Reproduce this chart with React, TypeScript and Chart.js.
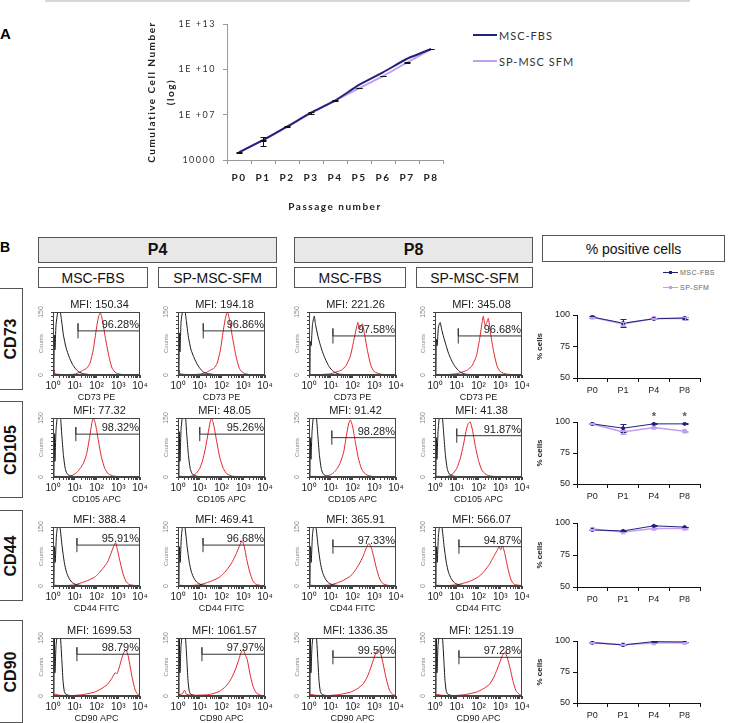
import React, { useEffect, useRef } from "react";
import { Chart, registerables } from "chart.js";

Chart.register(...registerables);

type Pt = [number, number];

// ---------- Panel A: cumulative growth ----------
const passages = ["P0", "P1", "P2", "P3", "P4", "P5", "P6", "P7", "P8"];
const cumulativeFBS = [3.2e4, 2.1e5, 1.6e6, 1.35e7, 8.5e7, 9.3e8, 6.3e9, 5.0e10, 2.2e11];
const cumulativeSFM = [3.2e4, 2.0e5, 1.6e6, 1.25e7, 8.5e7, 5.6e8, 3.6e9, 2.8e10, 2.2e11];
const cumulativeFBSLow = [3.2e4, 8.5e4, 1.6e6, 1.35e7, 8.5e7, 9.3e8, 6.3e9, 5.0e10, 2.2e11];
const cumulativeFBSHigh = [3.2e4, 3.4e5, 1.6e6, 1.35e7, 8.5e7, 9.3e8, 6.3e9, 5.0e10, 2.2e11];
const cumulativeSFMLow = [3.1e4, 1.9e5, 1.55e6, 1.1e7, 8.2e7, 5.4e8, 3.5e9, 2.7e10, 2.15e11];
const cumulativeSFMHigh = [3.3e4, 2.1e5, 1.65e6, 1.4e7, 8.8e7, 5.8e8, 3.7e9, 2.9e10, 2.25e11];
const growthTicks = [1e4, 1e7, 1e10, 1e13];

// ---------- Panel B: % positive cells ----------
const pctPassages = ["P0", "P1", "P4", "P8"];
const pctMarkers = ["CD73", "CD105", "CD44", "CD90"];
const pctFBS = [
  [98.4, 93.5, 97.0, 97.6],
  [98.5, 95.0, 98.5, 98.5],
  [94.6, 93.8, 97.8, 96.8],
  [98.7, 96.8, 99.5, 99.2],
];
const pctSFM = [
  [98.2, 93.0, 97.2, 97.3],
  [98.5, 92.0, 95.5, 92.5],
  [95.2, 93.0, 95.7, 95.7],
  [98.7, 97.0, 98.4, 98.7],
];
const pctErrFBS = [
  [1.0, 3.0, 0.5, 1.0],
  [0.5, 3.0, 0.5, 0.5],
  [0.3, 0.3, 0.3, 0.3],
  [0.3, 0.3, 0.3, 0.3],
];
const pctErrSFM = [
  [0.5, 1.5, 0.5, 1.0],
  [0.5, 1.5, 0.5, 0.5],
  [0.3, 0.3, 0.3, 0.3],
  [0.3, 0.3, 0.3, 0.3],
];
const pctSignificant = [
  [false, false, false, false],
  [false, false, true, true],
  [false, false, false, false],
  [false, false, false, false],
];

// ---------- Panel B: flow cytometry histograms ----------
const histAxisLabels = ["CD73 PE", "CD105 APC", "CD44 FITC", "CD90 APC"];
const histMFI = [
  ["150.34", "194.18", "221.26", "345.08"],
  ["77.32", "48.05", "91.42", "41.38"],
  ["388.4", "469.41", "365.91", "566.07"],
  ["1699.53", "1061.57", "1336.35", "1251.19"],
];
const histPositive = [
  ["96.28%", "96.86%", "97.58%", "96.68%"],
  ["98.32%", "95.26%", "98.28%", "91.87%"],
  ["95.91%", "96.68%", "97.33%", "94.87%"],
  ["98.79%", "97.97%", "99.59%", "97.28%"],
];
const gateStart = [
  [1.15, 1.16, 1.1, 1.07],
  [1.05, 1.0, 1.05, 1.0],
  [1.1, 1.15, 1.1, 1.1],
  [1.1, 1.1, 1.1, 1.1],
];
const gateLevel = [
  [105, 105, 93, 93],
  [109, 109, 100, 105],
  [104, 104, 100, 100],
  [108, 108, 100, 100],
];

const isotypeCurves: Pt[][][] = [
  [
    [[0, 0], [0.04, 0], [0.06, 95], [0.09, 60], [0.14, 120], [0.22, 150], [0.3, 160], [0.38, 135], [0.48, 95], [0.6, 65], [0.75, 42], [0.9, 25], [1.05, 14], [1.2, 7], [1.4, 3], [1.7, 1], [2.2, 0], [4, 0]],
    [[0, 0], [0.04, 0], [0.06, 100], [0.09, 55], [0.14, 125], [0.22, 155], [0.3, 160], [0.38, 130], [0.48, 90], [0.6, 60], [0.75, 40], [0.9, 24], [1.05, 13], [1.2, 6], [1.4, 3], [1.7, 1], [2.2, 0], [4, 0]],
    [[0, 0], [0.04, 0], [0.06, 80], [0.1, 70], [0.16, 120], [0.24, 140], [0.3, 120], [0.4, 95], [0.5, 75], [0.62, 55], [0.75, 38], [0.9, 22], [1.05, 12], [1.2, 6], [1.4, 2], [1.7, 1], [2.2, 0], [4, 0]],
    [[0, 0], [0.04, 0], [0.06, 85], [0.1, 70], [0.16, 115], [0.24, 125], [0.3, 110], [0.4, 90], [0.5, 72], [0.62, 52], [0.75, 36], [0.9, 22], [1.05, 12], [1.2, 6], [1.4, 2], [1.7, 1], [2.2, 0], [4, 0]],
  ],
  [
    [[0, 0], [0.04, 0], [0.06, 110], [0.09, 40], [0.14, 120], [0.22, 160], [0.32, 165], [0.4, 110], [0.48, 55], [0.56, 22], [0.65, 8], [0.8, 3], [1.0, 1], [1.5, 0], [4, 0]],
    [[0, 0], [0.04, 0], [0.06, 115], [0.09, 40], [0.14, 120], [0.22, 160], [0.32, 165], [0.4, 110], [0.48, 55], [0.56, 22], [0.65, 8], [0.8, 3], [1.0, 1], [1.5, 0], [4, 0]],
    [[0, 0], [0.04, 0], [0.06, 100], [0.09, 45], [0.14, 115], [0.22, 160], [0.32, 160], [0.4, 110], [0.48, 55], [0.56, 22], [0.65, 8], [0.8, 3], [1.0, 1], [1.5, 0], [4, 0]],
    [[0, 0], [0.04, 0], [0.06, 100], [0.09, 45], [0.14, 115], [0.22, 160], [0.32, 160], [0.4, 110], [0.48, 55], [0.56, 22], [0.65, 8], [0.8, 3], [1.0, 1], [1.5, 0], [4, 0]],
  ],
  [
    [[0, 0], [0.04, 0], [0.06, 100], [0.1, 60], [0.16, 130], [0.24, 160], [0.32, 150], [0.42, 100], [0.52, 60], [0.62, 35], [0.75, 18], [0.9, 8], [1.1, 3], [1.4, 1], [2, 0], [4, 0]],
    [[0, 0], [0.04, 0], [0.06, 100], [0.1, 60], [0.16, 130], [0.24, 160], [0.32, 150], [0.42, 100], [0.52, 60], [0.62, 35], [0.75, 18], [0.9, 8], [1.1, 3], [1.4, 1], [2, 0], [4, 0]],
    [[0, 0], [0.04, 0], [0.06, 100], [0.1, 60], [0.16, 130], [0.24, 160], [0.32, 150], [0.42, 100], [0.52, 60], [0.62, 35], [0.75, 18], [0.9, 8], [1.1, 3], [1.4, 1], [2, 0], [4, 0]],
    [[0, 0], [0.04, 0], [0.06, 100], [0.1, 60], [0.16, 130], [0.24, 160], [0.32, 150], [0.42, 100], [0.52, 60], [0.62, 35], [0.75, 18], [0.9, 8], [1.1, 3], [1.4, 1], [2, 0], [4, 0]],
  ],
  [
    [[0, 0], [0.04, 0], [0.06, 160], [0.09, 60], [0.14, 130], [0.22, 165], [0.32, 165], [0.4, 100], [0.46, 40], [0.52, 12], [0.6, 4], [0.8, 1], [1.2, 0], [4, 0]],
    [[0, 0], [0.04, 0], [0.06, 160], [0.09, 60], [0.14, 130], [0.22, 165], [0.32, 165], [0.4, 100], [0.46, 40], [0.52, 12], [0.6, 4], [0.8, 1], [1.2, 0], [4, 0]],
    [[0, 0], [0.04, 0], [0.06, 160], [0.09, 60], [0.14, 130], [0.22, 165], [0.32, 165], [0.4, 100], [0.46, 40], [0.52, 12], [0.6, 4], [0.8, 1], [1.2, 0], [4, 0]],
    [[0, 0], [0.04, 0], [0.06, 160], [0.09, 60], [0.14, 130], [0.22, 165], [0.32, 165], [0.4, 100], [0.46, 40], [0.52, 12], [0.6, 4], [0.8, 1], [1.2, 0], [4, 0]],
  ],
];

const stainedCurves: Pt[][][] = [
  [
    [[0, 2], [0.05, 12], [0.09, 3], [0.5, 1], [1.0, 2], [1.2, 6], [1.4, 12], [1.55, 16], [1.7, 28], [1.85, 60], [2.0, 112], [2.1, 140], [2.18, 148], [2.28, 128], [2.42, 85], [2.58, 42], [2.72, 16], [2.9, 5], [3.2, 1], [4, 0]],
    [[0, 2], [0.05, 12], [0.09, 3], [0.5, 1], [1.0, 2], [1.3, 6], [1.5, 12], [1.65, 16], [1.8, 28], [1.95, 60], [2.1, 112], [2.2, 140], [2.28, 150], [2.38, 128], [2.52, 85], [2.68, 42], [2.82, 16], [3.0, 5], [3.3, 1], [4, 0]],
    [[0, 1], [0.5, 1], [1.0, 3], [1.3, 8], [1.5, 12], [1.7, 22], [1.9, 45], [2.05, 80], [2.18, 112], [2.25, 125], [2.32, 110], [2.4, 118], [2.46, 122], [2.56, 95], [2.7, 55], [2.85, 22], [3.0, 8], [3.3, 2], [4, 0]],
    [[0, 1], [0.5, 1], [1.0, 3], [1.3, 8], [1.5, 12], [1.7, 22], [1.9, 45], [2.05, 85], [2.15, 120], [2.22, 140], [2.3, 118], [2.38, 125], [2.45, 135], [2.55, 100], [2.7, 55], [2.85, 22], [3.0, 8], [3.3, 2], [4, 0]],
  ],
  [
    [[0, 2], [0.5, 1], [0.8, 2], [0.95, 6], [1.1, 12], [1.25, 22], [1.4, 35], [1.55, 60], [1.68, 100], [1.78, 135], [1.85, 150], [1.95, 135], [2.08, 95], [2.22, 52], [2.38, 22], [2.55, 8], [2.8, 2], [3.2, 1], [4, 0]],
    [[0, 2], [0.5, 1], [0.7, 4], [0.85, 10], [1.0, 22], [1.12, 40], [1.25, 70], [1.38, 110], [1.48, 140], [1.55, 150], [1.65, 130], [1.78, 90], [1.92, 50], [2.08, 22], [2.25, 8], [2.5, 2], [3.0, 1], [4, 0]],
    [[0, 2], [0.5, 1], [0.8, 2], [1.0, 6], [1.15, 12], [1.3, 22], [1.45, 38], [1.6, 65], [1.72, 105], [1.82, 135], [1.9, 145], [2.0, 130], [2.12, 92], [2.26, 50], [2.42, 20], [2.6, 7], [2.85, 2], [3.2, 1], [4, 0]],
    [[0, 2], [0.5, 1], [0.7, 4], [0.85, 10], [1.0, 22], [1.15, 45], [1.3, 80], [1.42, 115], [1.52, 135], [1.62, 140], [1.72, 120], [1.85, 80], [2.0, 42], [2.15, 18], [2.35, 6], [2.6, 2], [3.0, 1], [4, 0]],
  ],
  [
    [[0, 2], [0.5, 1], [1.0, 3], [1.3, 8], [1.6, 14], [1.9, 22], [2.1, 32], [2.3, 45], [2.5, 60], [2.65, 80], [2.78, 100], [2.88, 110], [2.95, 95], [3.05, 70], [3.2, 35], [3.35, 12], [3.5, 4], [3.8, 1], [4, 0]],
    [[0, 2], [0.5, 1], [1.0, 3], [1.3, 8], [1.6, 14], [1.9, 22], [2.1, 32], [2.3, 45], [2.5, 62], [2.7, 85], [2.85, 105], [2.95, 115], [3.05, 100], [3.15, 70], [3.3, 35], [3.45, 12], [3.6, 4], [3.85, 1], [4, 0]],
    [[0, 2], [0.5, 1], [1.0, 3], [1.3, 8], [1.6, 15], [1.9, 25], [2.1, 38], [2.3, 55], [2.48, 75], [2.62, 95], [2.75, 108], [2.85, 100], [2.95, 80], [3.1, 45], [3.25, 18], [3.4, 6], [3.6, 2], [4, 0]],
    [[0, 2], [0.5, 1], [1.0, 3], [1.3, 7], [1.6, 12], [1.9, 20], [2.1, 28], [2.3, 40], [2.5, 55], [2.7, 75], [2.85, 90], [2.95, 100], [3.02, 92], [3.1, 102], [3.2, 85], [3.35, 45], [3.5, 15], [3.65, 4], [4, 1]],
  ],
  [
    [[0, 2], [0.1, 5], [0.3, 2], [0.8, 1], [1.3, 3], [1.6, 6], [1.9, 10], [2.2, 18], [2.5, 30], [2.7, 45], [2.85, 60], [2.95, 58], [3.05, 75], [3.15, 95], [3.25, 112], [3.35, 119], [3.45, 105], [3.55, 75], [3.65, 45], [3.78, 15], [3.9, 4], [4, 1]],
    [[0, 3], [0.2, 6], [0.3, 15], [0.4, 4], [0.8, 2], [1.3, 3], [1.6, 6], [1.9, 12], [2.2, 25], [2.45, 45], [2.65, 70], [2.8, 95], [2.92, 115], [3.0, 120], [3.08, 108], [3.18, 95], [3.3, 60], [3.45, 25], [3.6, 8], [3.8, 2], [4, 1]],
    [[0, 2], [0.1, 4], [0.3, 2], [0.8, 1], [1.3, 3], [1.6, 6], [1.9, 10], [2.2, 18], [2.5, 32], [2.7, 52], [2.85, 75], [3.0, 100], [3.1, 115], [3.2, 120], [3.3, 110], [3.42, 80], [3.55, 45], [3.7, 15], [3.85, 4], [4, 1]],
    [[0, 2], [0.1, 4], [0.3, 2], [0.8, 1], [1.3, 3], [1.6, 6], [1.9, 10], [2.2, 18], [2.5, 30], [2.7, 48], [2.85, 68], [3.0, 90], [3.1, 105], [3.22, 112], [3.32, 100], [3.45, 72], [3.58, 40], [3.72, 14], [3.88, 4], [4, 1]],
  ],
];

// ---------- layout geometry ----------
const histCols = [53, 178, 309, 435];
const histBoxW = 87;
const histRows: [number, number][] = [[312, 375], [418, 477], [527, 586], [638, 696]];
const pctRows: [number, number][] = [[315, 378], [422, 484], [523, 587], [641, 703]];

const NAVY = "#23237a";
const LAVENDER = "#c29ef0";
const RED = "#e3252b";
const SUP = ["\u2070", "\u00b9", "\u00b2", "\u00b3", "\u2074"];
const FONT = "'Liberation Sans', Arial, sans-serif";
const NARROW = "'Liberation Sans Narrow', 'Liberation Sans', Arial, sans-serif";

function ChartBox({ left, top, width, height, build }: { left: number; top: number; width: number; height: number; build: () => any }) {
  const ref = useRef<HTMLCanvasElement>(null);
  useEffect(() => {
    const chart = new Chart(ref.current as HTMLCanvasElement, build());
    return () => chart.destroy();
  }, []);
  return (
    <canvas
      ref={ref}
      width={width}
      height={height}
      style={{ position: "absolute", left, top, width, height }}
    />
  );
}

// error bars drawn from dataset.errLow / dataset.errHigh
const errorBarPlugin = {
  id: "errorBars",
  afterDatasetsDraw(chart: any) {
    const { ctx } = chart;
    const yScale = chart.scales.y;
    chart.data.datasets.forEach((ds: any, di: number) => {
      if (!ds.errLow) return;
      const meta = chart.getDatasetMeta(di);
      ctx.save();
      ctx.strokeStyle = ds.errColor || "#111";
      ctx.lineWidth = 1;
      meta.data.forEach((pt: any, i: number) => {
        if (ds.errLow[i] === ds.errHigh[i]) return;
        const y1 = Math.round(yScale.getPixelForValue(ds.errLow[i])) + 0.5;
        const y2 = Math.round(yScale.getPixelForValue(ds.errHigh[i])) + 0.5;
        const x = Math.round(pt.x) + 0.5;
        const c = ds.capWidth || 3;
        ctx.beginPath();
        ctx.moveTo(x, y1);
        ctx.lineTo(x, y2);
        ctx.moveTo(x - c, y1);
        ctx.lineTo(x + c, y1);
        ctx.moveTo(x - c, y2);
        ctx.lineTo(x + c, y2);
        ctx.stroke();
      });
      ctx.restore();
    });
  },
};

function growthConfig() {
  return {
    type: "line",
    data: {
      labels: passages,
      datasets: [
        {
          label: "MSC-FBS",
          data: cumulativeFBS,
          errLow: cumulativeFBSLow,
          errHigh: cumulativeFBSHigh,
          borderColor: NAVY,
          borderWidth: 2,
          pointRadius: 0,
          tension: 0.15,
        },
        {
          label: "SP-MSC SFM",
          data: cumulativeSFM,
          errLow: cumulativeSFMLow,
          errHigh: cumulativeSFMHigh,
          borderColor: LAVENDER,
          borderWidth: 2,
          pointRadius: 0,
          tension: 0.15,
        },
      ],
    },
    options: {
      animation: false,
      responsive: false,
      events: [],
      layout: { padding: { top: 14, right: 10, left: 0, bottom: 0 } },
      plugins: { legend: { display: false }, tooltip: { enabled: false } },
      scales: {
        x: {
          offset: true,
          afterFit: (s: any) => { s.height = 60; },
          grid: { offset: true, drawOnChartArea: false, tickLength: 4, color: "#999" },
          border: { color: "#999" },
          ticks: { padding: 8, color: "#222", font: { family: "Lato, sans-serif", size: 10, weight: "bold" } },
          title: {
            display: true,
            text: "Passage number",
            color: "#222",
            padding: { top: 0, bottom: 7 },
            font: { family: "Lato, sans-serif", size: 10, weight: "bold" },
          },
        },
        y: {
          type: "logarithmic",
          min: 1e4,
          max: 1e13,
          afterFit: (s: any) => { s.width = 87; },
          afterBuildTicks: (s: any) => { s.ticks = growthTicks.map((v) => ({ value: v })); },
          grid: { drawOnChartArea: false, tickLength: 4, color: "#999" },
          border: { color: "#999" },
          ticks: {
            padding: 7,
            color: "#333",
            font: { family: "Lato, sans-serif", size: 9 },
            callback: (v: number) => (v === 1e4 ? "10000" : "1E +" + String(Math.round(Math.log10(v))).padStart(2, "0")),
          },
          title: {
            display: true,
            text: ["Cumulative Cell Number", "(log)"],
            color: "#222",
            padding: { top: 2.5, bottom: 0 },
            font: { family: "Lato, sans-serif", size: 10, weight: "bold", lineHeight: 1.9 },
          },
        },
      },
    },
    plugins: [
      errorBarPlugin,
      {
        id: "spacing",
        beforeDraw(chart: any) { chart.ctx.letterSpacing = "1.5px"; },
      },
    ],
  };
}

function pctConfig(row: number, plotH: number) {
  const stars = pctSignificant[row];
  return {
    type: "line",
    data: {
      labels: pctPassages,
      datasets: [
        {
          label: "MSC-FBS",
          data: pctFBS[row],
          errLow: pctFBS[row].map((v, i) => v - pctErrFBS[row][i]),
          errHigh: pctFBS[row].map((v, i) => Math.min(100.5, v + pctErrFBS[row][i])),
          errColor: NAVY,
          capWidth: 3,
          borderColor: NAVY,
          backgroundColor: NAVY,
          borderWidth: 1,
          pointStyle: "circle",
          pointRadius: 1.6,
          tension: 0,
        },
        {
          label: "SP-SFM",
          data: pctSFM[row],
          errLow: pctSFM[row].map((v, i) => v - pctErrSFM[row][i]),
          errHigh: pctSFM[row].map((v, i) => v + pctErrSFM[row][i]),
          errColor: LAVENDER,
          capWidth: 3,
          borderColor: LAVENDER,
          backgroundColor: LAVENDER,
          borderWidth: 1.6,
          pointStyle: "rect",
          pointRadius: 2,
          tension: 0,
        },
      ],
    },
    options: {
      animation: false,
      responsive: false,
      events: [],
      layout: { padding: { top: 10, right: 15, left: 0, bottom: 0 } },
      plugins: { legend: { display: false }, tooltip: { enabled: false } },
      scales: {
        x: {
          offset: true,
          afterFit: (s: any) => { s.height = 90 - plotH; },
          grid: { offset: true, drawOnChartArea: false, tickLength: 4, color: "#111" },
          border: { color: "#111" },
          ticks: { padding: 3, color: "#222", font: { family: FONT, size: 9 } },
        },
        y: {
          min: 50,
          max: 100,
          afterFit: (s: any) => { s.width = 52; },
          grid: { drawOnChartArea: false, tickLength: 4, color: "#111" },
          border: { color: "#111" },
          ticks: { stepSize: 25, padding: 3, color: "#222", font: { family: FONT, size: 9 } },
          title: {
            display: true,
            text: "% cells",
            color: "#222",
            padding: { top: 10, bottom: 0 },
            font: { family: FONT, size: 8, weight: "bold" },
          },
        },
      },
    },
    plugins: [
      errorBarPlugin,
      {
        id: "stars",
        afterDatasetsDraw(chart: any) {
          const { ctx } = chart;
          const meta = chart.getDatasetMeta(0);
          ctx.save();
          ctx.fillStyle = "#555";
          ctx.font = `bold 11px ${FONT}`;
          ctx.textAlign = "center";
          ctx.textBaseline = "middle";
          meta.data.forEach((pt: any, i: number) => {
            if (stars[i]) ctx.fillText("*", pt.x, pt.y - 7);
          });
          ctx.restore();
        },
      },
    ],
  };
}

const histTickValues: number[] = [];
for (let n = 0; n < 4; n++) for (let k = 1; k < 10; k++) histTickValues.push(n + Math.log10(k));
histTickValues.push(4);

function histConfig(row: number, col: number) {
  const g = gateStart[row][col];
  const lvl = gateLevel[row][col];
  const mfi = "MFI: " + histMFI[row][col];
  const pct = histPositive[row][col];
  return {
    type: "line",
    data: {
      datasets: [
        {
          data: [
            { x: g, y: lvl - 18 },
            { x: g, y: lvl + 18 },
            { x: g, y: lvl },
            { x: 4, y: lvl },
          ],
          borderColor: "#333",
          borderWidth: 1,
          pointRadius: 0,
          tension: 0,
        },
        {
          data: isotypeCurves[row][col].map(([x, y]) => ({ x, y })),
          borderColor: "#1a1a1a",
          borderWidth: 1,
          pointRadius: 0,
          tension: 0.2,
        },
        {
          data: stainedCurves[row][col].map(([x, y]) => ({ x, y })),
          borderColor: RED,
          borderWidth: 1,
          pointRadius: 0,
          tension: 0.2,
        },
      ],
    },
    options: {
      animation: false,
      responsive: false,
      events: [],
      layout: { padding: { top: 16, right: 10, left: 0, bottom: 0 } },
      plugins: { legend: { display: false }, tooltip: { enabled: false } },
      scales: {
        x: {
          type: "linear",
          min: 0,
          max: 4,
          afterFit: (s: any) => { s.height = 30; },
          afterBuildTicks: (s: any) => { s.ticks = histTickValues.map((v) => ({ value: v })); },
          grid: { drawOnChartArea: false, tickLength: 3, color: "#444" },
          border: { color: "#444" },
          ticks: {
            autoSkip: false,
            maxRotation: 0,
            padding: 2,
            color: "#222",
            font: { family: FONT, size: 10 },
            callback: (v: number) => {
              const r = Math.round(v);
              return Math.abs(v - r) < 1e-9 ? "10" + SUP[r] : "";
            },
          },
          title: {
            display: true,
            text: histAxisLabels[row],
            color: "#222",
            padding: { top: 0, bottom: 2.5 },
            font: { family: FONT, size: 9 },
          },
        },
        y: {
          min: 0,
          max: 150,
          afterFit: (s: any) => { s.width = 24; },
          grid: { drawOnChartArea: false, tickLength: 2, color: "#444" },
          border: { color: "#444" },
          ticks: { display: false, stepSize: 10 },
        },
      },
    },
    plugins: [
      {
        id: "histDecor",
        afterDraw(chart: any) {
          const { ctx, chartArea: a } = chart;
          const y = chart.scales.y;
          ctx.save();
          ctx.strokeStyle = "#444";
          ctx.lineWidth = 1;
          ctx.strokeRect(a.left + 0.5, a.top + 0.5, a.right - a.left - 1, a.bottom - a.top - 1);
          ctx.fillStyle = "#222";
          ctx.font = `11px ${FONT}`;
          ctx.textAlign = "center";
          ctx.textBaseline = "middle";
          ctx.fillText(mfi, (a.left + a.right) / 2 + 3, a.top - 7);
          ctx.textAlign = "right";
          ctx.textBaseline = "alphabetic";
          ctx.fillText(pct, a.right - 1, y.getPixelForValue(lvl) - 3);
          ctx.fillStyle = "#888";
          ctx.textAlign = "center";
          ctx.textBaseline = "middle";
          const rot = (text: string, px: number, py: number, size: number) => {
            ctx.save();
            ctx.translate(px, py);
            ctx.rotate(-Math.PI / 2);
            ctx.font = `${size}px ${FONT}`;
            ctx.fillText(text, 0, 0);
            ctx.restore();
          };
          rot("150", a.left - 12, a.top, 7);
          rot("0", a.left - 12, a.bottom, 7);
          rot("Counts", a.left - 12, (a.top + a.bottom) / 2, 6);
          ctx.restore();
        },
      },
    ],
  };
}

const boxBase: React.CSSProperties = {
  position: "absolute",
  boxSizing: "border-box",
  border: "1px solid #555",
  display: "flex",
  alignItems: "center",
  justifyContent: "center",
  color: "#111",
};

function Label({ l, t, w, h, bg, size, bold, children }: any) {
  return (
    <div style={{ ...boxBase, left: l, top: t, width: w, height: h, background: bg, fontSize: size, fontWeight: bold ? "bold" : "normal", fontFamily: NARROW }}>
      {children}
    </div>
  );
}

function RowLabel({ t, h, text }: { t: number; h: number; text: string }) {
  return (
    <div style={{ ...boxBase, left: -1, top: t, width: 24, height: h, background: "#fff" }}>
      <span style={{ transform: "rotate(-90deg)", whiteSpace: "nowrap", fontFamily: FONT, fontWeight: "bold", fontSize: 16 }}>{text}</span>
    </div>
  );
}

function LegendSwatch({ l, t, color, width, text, size, marker }: any) {
  return (
    <div style={{ position: "absolute", left: l, top: t - 10, height: 20, display: "flex", alignItems: "center" }}>
      <div style={{ position: "relative", width: width, height: marker ? 1 : 2, background: color }}>
        {marker ? (
          <div style={{ position: "absolute", left: width / 2 - 1.5, top: -1, width: 3, height: 3, background: color }} />
        ) : null}
      </div>
      <span style={{ marginLeft: 2, fontSize: size, color: marker ? "#666" : "#333", letterSpacing: marker ? 0.5 : 1, fontFamily: marker ? FONT : "Lato, sans-serif" }}>{text}</span>
    </div>
  );
}

export default function App() {
  const rowLabelBoxes: [number, number][] = [[288, 102], [401, 97], [510, 91], [620, 103]];
  return (
    <div style={{ position: "absolute", left: 0, top: 0, width: 731, height: 723, background: "#fff", overflow: "hidden", fontFamily: FONT }}>
      <div style={{ position: "absolute", left: 45, top: 0, width: 645, height: 2, background: "#d8d8d8" }} />
      <div style={{ position: "absolute", left: 0, top: 25, fontFamily: NARROW, fontWeight: "bold", fontSize: 15 }}>A</div>
      <div style={{ position: "absolute", left: 0, top: 239, fontFamily: FONT, fontWeight: "bold", fontSize: 14 }}>B</div>

      <ChartBox left={140} top={10} width={313} height={210} build={growthConfig} />
      <LegendSwatch l={473} t={35} color={NAVY} width={24} text="MSC-FBS" size={11} />
      <LegendSwatch l={473} t={61} color={LAVENDER} width={24} text="SP-MSC SFM" size={11} />

      <Label l={38} t={237} w={239} h={26} bg="#e8e8e8" size={16} bold>P4</Label>
      <Label l={294} t={237} w={239} h={26} bg="#e8e8e8" size={16} bold>P8</Label>
      <Label l={542} t={235} w={183} h={27} bg="#fff" size={14}>% positive cells</Label>
      <Label l={38} t={267} w={110} h={21} bg="#fff" size={14}>MSC-FBS</Label>
      <Label l={158} t={267} w={119} h={21} bg="#fff" size={14}>SP-MSC-SFM</Label>
      <Label l={294} t={267} w={112} h={21} bg="#fff" size={14}>MSC-FBS</Label>
      <Label l={416} t={267} w={117} h={21} bg="#fff" size={14}>SP-MSC-SFM</Label>

      {pctMarkers.map((m, i) => (
        <RowLabel key={m} t={rowLabelBoxes[i][0]} h={rowLabelBoxes[i][1]} text={m} />
      ))}

      {histRows.map(([top, bottom], r) =>
        histCols.map((left, c) => (
          <ChartBox
            key={`h${r}-${c}`}
            left={left - 24}
            top={top - 16}
            width={histBoxW + 34}
            height={bottom - top + 46}
            build={() => histConfig(r, c)}
          />
        ))
      )}

      <LegendSwatch l={663} t={272} color={NAVY} width={15} text="MSC-FBS" size={7} marker />
      <LegendSwatch l={663} t={287} color={LAVENDER} width={15} text="SP-SFM" size={7} marker />
      {pctRows.map(([top, bottom], r) => (
        <ChartBox
          key={`p${r}`}
          left={525}
          top={top - 10}
          width={190}
          height={100}
          build={() => pctConfig(r, bottom - top)}
        />
      ))}
    </div>
  );
}
